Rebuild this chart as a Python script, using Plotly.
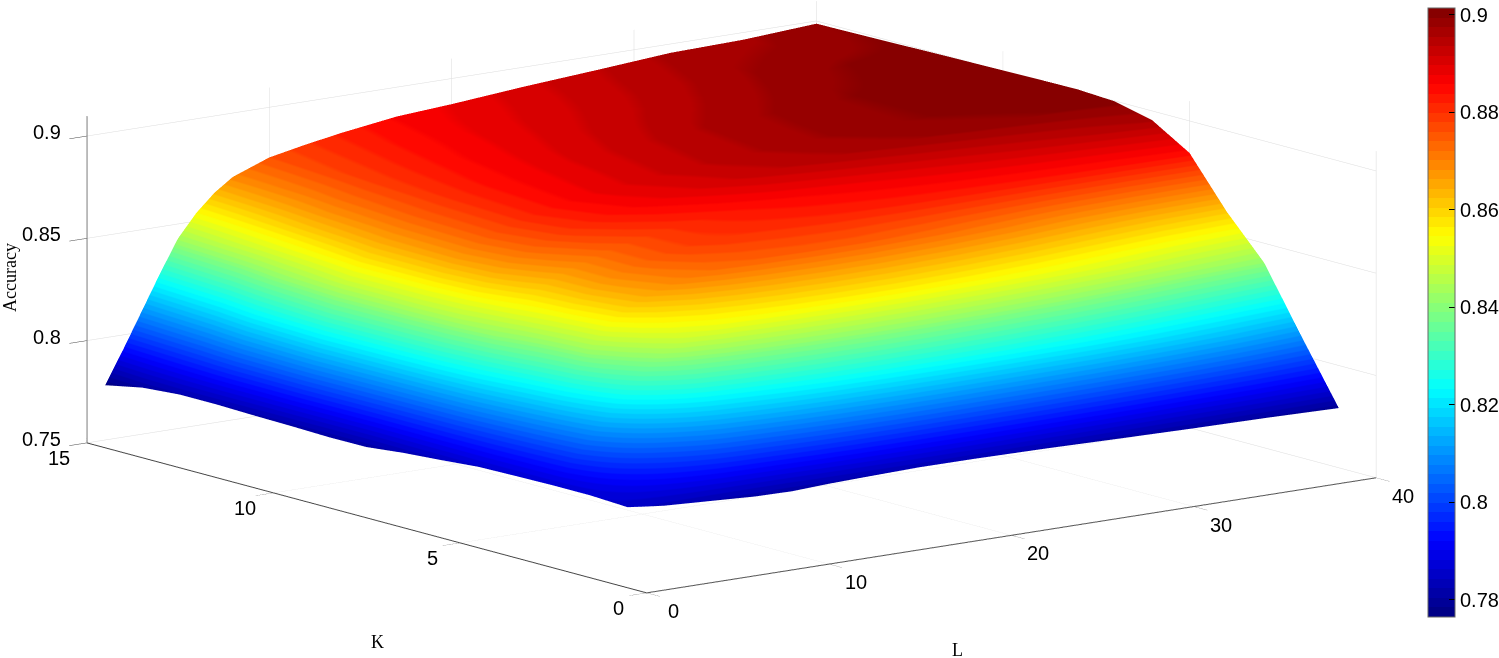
import plotly.graph_objects as go

K_values = [1, 2, 3, 4, 5, 6, 7, 8, 9, 10, 11, 12, 13, 14, 15]
L_values = [1, 2, 3, 4, 5, 6, 7, 8, 10, 12, 14, 17, 20, 24, 28, 32, 36, 40]

acc_k1 = [.7856, .7845, .7835, .7830, .7825, .7820, .7815, .7810, .7807, .7815, .7820, .7826, .7825, .7820, .7812, .7805, .7800, .7792]
acc_k2 = [.7865, .7900, .7940, .7980, .8020, .8060, .8100, .8130, .8170, .8205, .8230, .8250, .8255, .8250, .8235, .8200, .8155, .8094]
acc_k3 = [.7865, .7960, .8060, .8160, .8260, .8350, .8420, .8470, .8515, .8535, .8550, .8560, .8560, .8545, .8520, .8485, .8440, .8405]
acc_k4 = [.7862, .7980, .8110, .8260, .8420, .8520, .8590, .8635, .8690, .8720, .8735, .8745, .8745, .8725, .8695, .8655, .8625, .8605]
acc_k5 = [.7858, .8000, .8160, .8320, .8460, .8560, .8625, .8670, .8730, .8770, .8790, .8800, .8810, .8820, .8825, .8830, .8835, .8844]
acc_k6 = [.7842, .8020, .8220, .8400, .8510, .8580, .8630, .8670, .8730, .8770, .8800, .8830, .8850, .8870, .8890, .8910, .8930, .8955]
acc_k7 = [.7828, .8030, .8260, .8450, .8560, .8640, .8690, .8730, .8790, .8830, .8860, .8890, .8920, .8945, .8965, .8980, .8990, .8998]
acc_k8 = [.7808, .8040, .8280, .8470, .8580, .8660, .8710, .8750, .8810, .8850, .8880, .8910, .8935, .8960, .8980, .8992, .9000, .9008]
acc_k9 = [.7807, .8050, .8290, .8475, .8580, .8655, .8705, .8745, .8805, .8845, .8872, .8905, .8930, .8958, .8978, .8992, .9000, .9006]
acc_k10 = [.7812, .8060, .8300, .8480, .8580, .8650, .8700, .8740, .8800, .8840, .8865, .8900, .8925, .8955, .8975, .8992, .9000, .9003]
acc_k11 = [.7815, .8045, .8265, .8440, .8550, .8630, .8688, .8730, .8792, .8830, .8858, .8890, .8915, .8943, .8965, .8985, .8997, .9000]
acc_k12 = [.7820, .8030, .8230, .8400, .8520, .8610, .8675, .8720, .8785, .8820, .8850, .8880, .8905, .8930, .8955, .8978, .8993, .8997]
acc_k13 = [.7820, .7990, .8170, .8340, .8490, .8585, .8655, .8705, .8775, .8810, .8840, .8872, .8895, .8920, .8945, .8970, .8982, .8993]
acc_k14 = [.7805, .7960, .8135, .8305, .8460, .8560, .8640, .8695, .8765, .8800, .8830, .8865, .8885, .8912, .8938, .8963, .8973, .8990]
acc_k15 = [.7768, .7930, .8100, .8270, .8430, .8540, .8625, .8688, .8755, .8790, .8820, .8857, .8875, .8905, .8930, .8957, .8965, .8987]
accuracy = [acc_k1, acc_k2, acc_k3, acc_k4, acc_k5, acc_k6, acc_k7, acc_k8, acc_k9, acc_k10, acc_k11, acc_k12, acc_k13, acc_k14, acc_k15]

L_ticks = [0, 10, 20, 30, 40]
K_ticks = [0, 5, 10, 15]
Z_ticks = [0.75, 0.8, 0.85, 0.9]
Z_labels = ["0.75", "0.8", "0.85", "0.9"]
CB_ticks = [0.78, 0.8, 0.82, 0.84, 0.86, 0.88, 0.9]
CB_labels = ["0.78", "0.8", "0.82", "0.84", "0.86", "0.88", "0.9"]


def jet(t):
    def ch(v):
        return max(0.0, min(1.0, v))
    return (ch(1.5 - abs(4 * t - 3)), ch(1.5 - abs(4 * t - 2)), ch(1.5 - abs(4 * t - 1)))


N = 64
scale = []
for i in range(N):
    r, g, b = jet((i + 0.5) / N)
    c = f"rgb({round(r*255)},{round(g*255)},{round(b*255)})"
    scale.append([i / N, c])
    scale.append([(i + 1) / N, c])

W, H = 1499, 658
TICK = dict(family="Liberation Sans", size=20, color="black")
EYE = 8
ZOOM = 2.795
SHIFT = 0.0994


def axis(rng, vals):
    return dict(range=rng, tickvals=vals, showgrid=True, gridcolor="#dcdcdc", gridwidth=1,
                showline=True, linecolor="#444444", linewidth=2, zeroline=False,
                showbackground=False, ticks="outside", ticklen=22, tickcolor="#444444",
                tickwidth=1, showticklabels=False, title=dict(text=""), showspikes=False)


def tick_note(x, y, z, text, xshift, yshift, xanchor="center"):
    return dict(x=x, y=y, z=z, text=str(text), showarrow=False, xshift=xshift, yshift=yshift,
                xanchor=xanchor, yanchor="middle", font=TICK)


tick_notes = (
    [tick_note(v, 0, Z_ticks[0], v, 27, -18) for v in L_ticks]
    + [tick_note(0, v, Z_ticks[0], v, -28, -15) for v in K_ticks]
    + [tick_note(0, K_ticks[-1], v, t, -24, 4, "right") for v, t in zip(Z_ticks, Z_labels)]
)

fig = go.Figure(go.Surface(
    x=L_values, y=K_values, z=accuracy, cmin=0.7765, cmax=0.9014, colorscale=scale,
    lighting=dict(ambient=1, diffuse=0, specular=0, fresnel=0, roughness=1),
    hoverinfo="skip",
    colorbar=dict(thicknessmode="pixels", thickness=27, lenmode="pixels", len=609,
                  x=1428 / W, xanchor="left", xpad=0, ypad=0,
                  y=1 - 8 / H, yanchor="top", tickvals=CB_ticks, ticktext=CB_labels,
                  ticks="inside", ticklen=6, tickcolor="black", tickwidth=1,
                  tickfont=TICK, outlinecolor="#666666", outlinewidth=1),
))

fig.update_layout(
    width=W, height=H, margin=dict(l=0, r=0, t=0, b=0, autoexpand=False), paper_bgcolor="white",
    font=dict(family="Liberation Sans"),
    scene=dict(
        domain=dict(x=[0, 1463 / W], y=[0, 1]),
        xaxis=axis([0, 40], L_ticks),
        yaxis=axis([0, 15], K_ticks),
        zaxis=axis([0.75, 0.9097], Z_ticks),
        aspectmode="manual", aspectratio=dict(x=ZOOM, y=ZOOM, z=0.3630 * ZOOM),
        camera=dict(projection=dict(type="orthographic"), up=dict(x=0, y=0, z=1),
                    center=dict(x=0, y=0, z=-SHIFT),
                    eye=dict(x=-0.5958 * EYE, y=-0.7764 * EYE, z=0.2056 * EYE - SHIFT)),
        annotations=tick_notes,
    ),
    annotations=[
        dict(text="Accuracy", x=10 / W, y=1 - 278 / H, xref="paper", yref="paper", showarrow=False,
             xanchor="center", yanchor="middle",
             textangle=-90, font=dict(family="Liberation Serif", size=18, color="black")),
        dict(text="K", x=377 / W, y=1 - 642 / H, xref="paper", yref="paper", showarrow=False,
             xanchor="center", yanchor="middle",
             font=dict(family="Liberation Serif", size=18, color="black")),
        dict(text="L", x=957 / W, y=1 - 650 / H, xref="paper", yref="paper", showarrow=False,
             xanchor="center", yanchor="middle",
             font=dict(family="Liberation Serif", size=18, color="black")),
    ],
)
fig.write_html("out.html", config=dict(displayModeBar=False),
               post_script="document.body.style.margin='0';document.body.style.overflow='hidden';")
